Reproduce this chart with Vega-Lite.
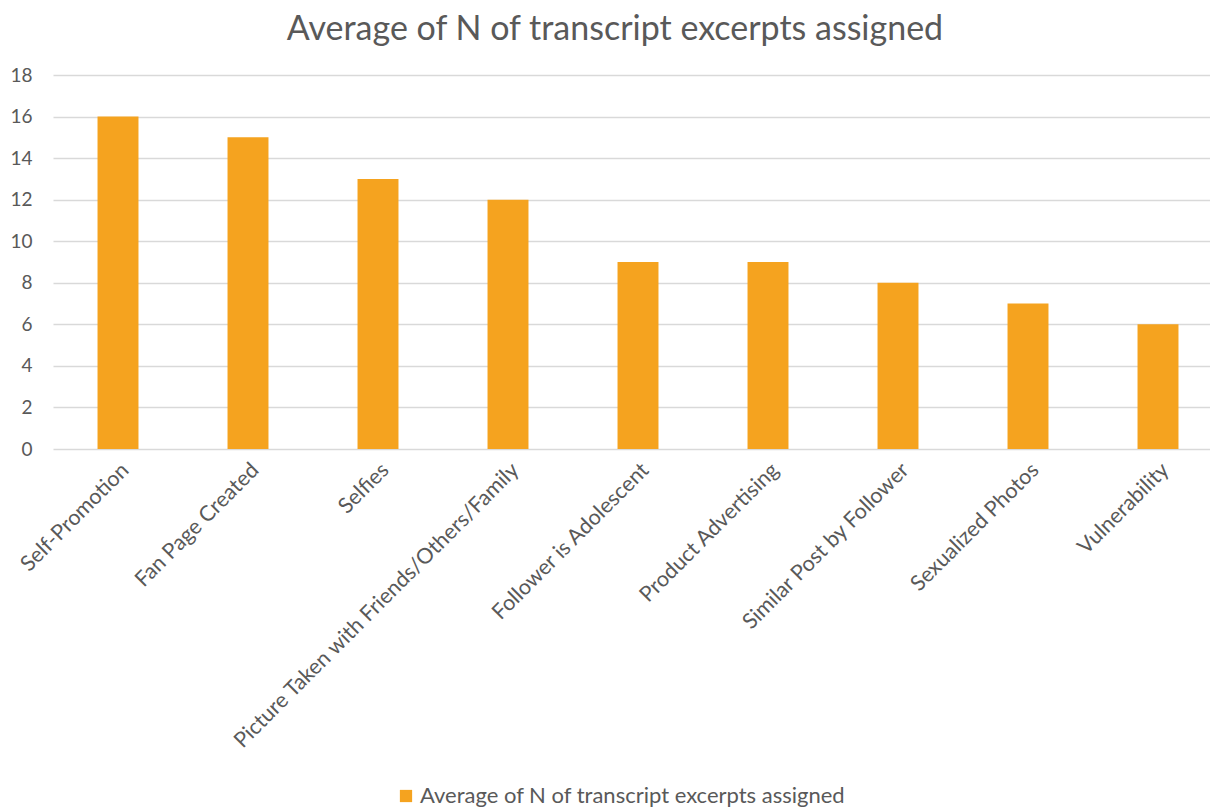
{
  "$schema": "https://vega.github.io/schema/vega-lite/v6.json",
  "width": 1170,
  "height": 374,
  "autosize": {"type": "none"},
  "padding": {"left": 53, "top": 75, "right": 0, "bottom": 358},
  "background": "white",
  "config": {"view": {"stroke": null}},
  "title": {
    "text": "Average of N of transcript excerpts assigned",
    "fontSize": 34,
    "font": "Lato",
    "fontWeight": "normal",
    "color": "#595959",
    "anchor": "middle",
    "dx": -23,
    "offset": 19
  },
  "data": {
    "values": [
      {"category": "Self-Promotion", "value": 16, "series": "Average of N of transcript excerpts assigned"},
      {"category": "Fan Page Created", "value": 15, "series": "Average of N of transcript excerpts assigned"},
      {"category": "Selfies", "value": 13, "series": "Average of N of transcript excerpts assigned"},
      {"category": "Picture Taken with Friends/Others/Family", "value": 12, "series": "Average of N of transcript excerpts assigned"},
      {"category": "Follower is Adolescent", "value": 9, "series": "Average of N of transcript excerpts assigned"},
      {"category": "Product Advertising", "value": 9, "series": "Average of N of transcript excerpts assigned"},
      {"category": "Similar Post by Follower", "value": 8, "series": "Average of N of transcript excerpts assigned"},
      {"category": "Sexualized Photos", "value": 7, "series": "Average of N of transcript excerpts assigned"},
      {"category": "Vulnerability", "value": 6, "series": "Average of N of transcript excerpts assigned"}
    ]
  },
  "mark": {"type": "bar", "color": "#F5A31F"},
  "encoding": {
    "x": {
      "field": "category",
      "type": "nominal",
      "sort": null,
      "scale": {"paddingInner": 0.685, "paddingOuter": 0.3425},
      "axis": {
        "title": null,
        "labelAngle": -45,
        "labelFontSize": 21.5,
        "labelFont": "Lato",
        "labelColor": "#595959",
        "domain": false,
        "ticks": false,
        "labelPadding": 10,
        "labelLimit": 450
      }
    },
    "y": {
      "field": "value",
      "type": "quantitative",
      "scale": {"domain": [0, 18]},
      "axis": {
        "title": null,
        "values": [0, 2, 4, 6, 8, 10, 12, 14, 16, 18],
        "labelFontSize": 19,
        "labelFont": "Lato",
        "labelColor": "#595959",
        "domain": false,
        "ticks": false,
        "labelPadding": 21,
        "gridColor": "#D9D9D9",
        "gridWidth": 1.3
      }
    },
    "fill": {
      "field": "series",
      "type": "nominal",
      "scale": {"range": ["#F5A31F"]},
      "legend": {
        "title": null,
        "orient": "none",
        "legendX": 342,
        "legendY": 710,
        "symbolType": "square",
        "symbolSize": 150,
        "labelFontSize": 22,
        "labelFont": "Lato",
        "labelColor": "#595959",
        "labelLimit": 600,
        "labelOffset": 3
      }
    }
  }
}
